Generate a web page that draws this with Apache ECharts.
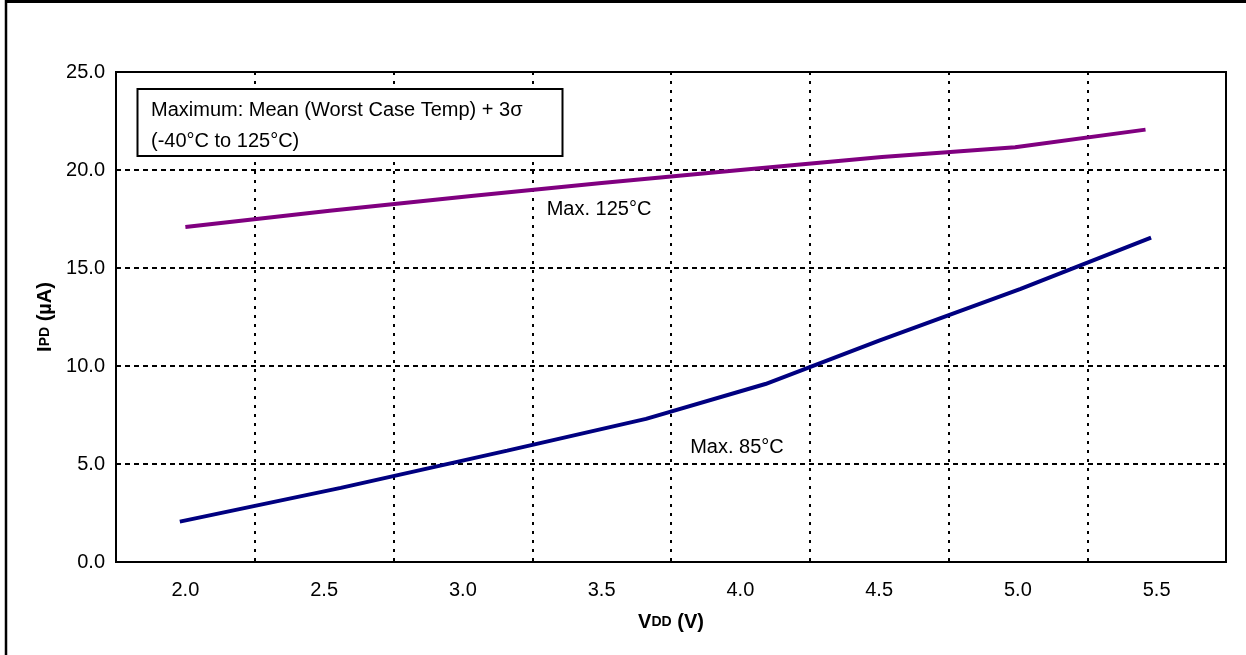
<!DOCTYPE html>
<html><head><meta charset="utf-8">
<script src="https://cdn.jsdelivr.net/npm/echarts@6/dist/echarts.min.js"></script>
<style>html,body{margin:0;padding:0;background:#fff}#c{width:1246px;height:655px}</style>
</head><body><div id="c"></div>
<script>
const xTickLabels = ['2.0','2.5','3.0','3.5','4.0','4.5','5.0','5.5'];
const vdd125 = [2.0, 2.52, 3.03, 3.5, 4.0, 4.51, 4.99, 5.46];
const ipd125 = [17.09, 17.92, 18.67, 19.34, 20.0, 20.66, 21.16, 22.06];
const vdd85 = [1.98, 2.56, 3.16, 3.66, 4.09, 4.5, 5.01, 5.48];
const ipd85 = [2.06, 3.78, 5.68, 7.30, 9.08, 11.3, 13.93, 16.55];
const seriesNames = ['Max. 125°C', 'Max. 85°C'];
const noteLines = ['Maximum: Mean (Worst Case Temp) + 3σ', '(-40°C to 125°C)'];

const FONT = '"Liberation Sans", Arial, sans-serif';
const FS = 20;
const chart = echarts.init(document.getElementById('c'), null, {renderer: 'canvas'});
const zip = (xs, ys) => xs.map((x, i) => [x, ys[i]]);

chart.setOption({
  animation: false,
  backgroundColor: '#fff',
  textStyle: {fontFamily: FONT},
  grid: {left: 116, right: 20, top: 72, bottom: 93, show: true, borderColor: '#000', borderWidth: 2, backgroundColor: 'transparent'},
  xAxis: [{
    type: 'category', data: xTickLabels, boundaryGap: true,
    axisLine: {show: false}, axisTick: {show: false},
    axisLabel: {color: '#000', fontSize: FS, fontFamily: FONT, margin: 18},
    splitLine: {show: true, interval: 0, lineStyle: {color: '#000', width: 2, type: [3, 6]}},
    name: '{b|V}{s|DD}{b| (V)}', nameLocation: 'middle', nameGap: 50,
    nameTextStyle: {rich: {
      b: {fontSize: 20, fontWeight: 'bold', color: '#000', fontFamily: FONT},
      s: {fontSize: 14, fontWeight: 'bold', color: '#000', fontFamily: FONT}
    }}
  }, {
    type: 'value', min: 1.75, max: 5.75, show: false
  }],
  yAxis: {
    type: 'value', min: 0, max: 25, interval: 5,
    axisLine: {show: false}, axisTick: {show: false},
    axisLabel: {color: '#000', fontSize: FS, fontFamily: FONT, margin: 11, formatter: v => v.toFixed(1)},
    splitLine: {show: true, lineStyle: {color: '#000', width: 2, type: [5, 4]}},
    name: '{b|I}{s|PD}{b| (µA)}', nameLocation: 'middle', nameGap: 60, nameRotate: 90,
    nameTextStyle: {rich: {
      b: {fontSize: 20, fontWeight: 'bold', color: '#000', fontFamily: FONT},
      s: {fontSize: 14, fontWeight: 'bold', color: '#000', fontFamily: FONT}
    }}
  },
  series: [{
    name: seriesNames[0], type: 'line', xAxisIndex: 1, showSymbol: false, symbol: 'none',
    data: zip(vdd125, ipd125), lineStyle: {color: '#800080', width: 4}, z: 5
  }, {
    name: seriesNames[1], type: 'line', xAxisIndex: 1, showSymbol: false, symbol: 'none',
    data: zip(vdd85, ipd85), lineStyle: {color: '#000080', width: 4}, z: 5
  }],
  graphic: [
    {type: 'line', shape: {x1: 6, y1: 0, x2: 6, y2: 655}, style: {stroke: '#000', lineWidth: 2.5}},
    {type: 'line', shape: {x1: 5, y1: 1.5, x2: 1246, y2: 1.5}, style: {stroke: '#000', lineWidth: 3}},
    {type: 'rect', shape: {x: 137.5, y: 89, width: 425, height: 67}, style: {fill: '#fff', stroke: '#000', lineWidth: 2}, z: 10},
    {type: 'text', left: 151, top: 95, z: 11, style: {text: noteLines.join('\n'), font: FS + 'px ' + FONT, fill: '#000', lineHeight: 31}},
    {type: 'text', x: 599, y: 209, z: 11, style: {text: seriesNames[0], font: FS + 'px ' + FONT, fill: '#000', align: 'center', verticalAlign: 'middle'}},
    {type: 'text', x: 737, y: 447, z: 11, style: {text: seriesNames[1], font: FS + 'px ' + FONT, fill: '#000', align: 'center', verticalAlign: 'middle'}}
  ]
});
</script>
</body></html>
